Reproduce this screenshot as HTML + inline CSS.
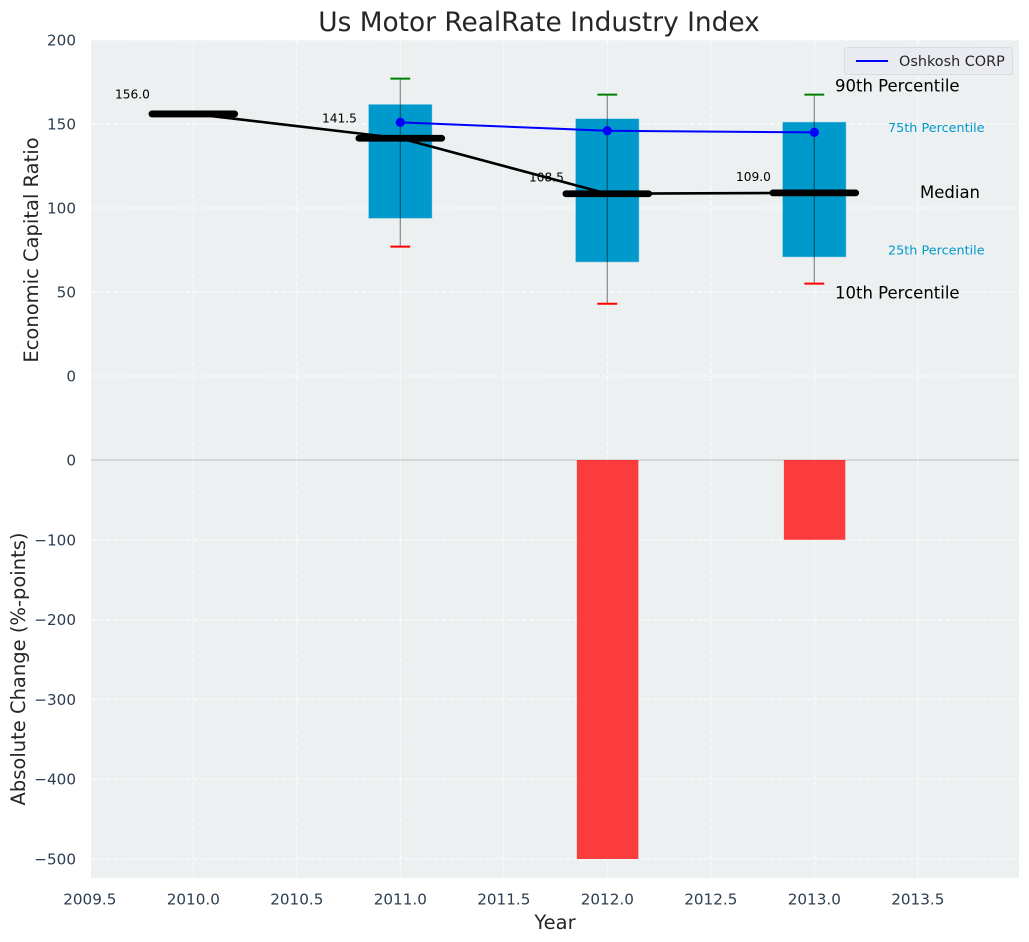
<!DOCTYPE html>
<html>
<head>
<meta charset="utf-8">
<title>Us Motor RealRate Industry Index</title>
<style>
html,body{margin:0;padding:0;background:#fff;width:1029px;height:942px;overflow:hidden}
svg{display:block;font-family:"DejaVu Sans","Liberation Sans",sans-serif}
</style>
</head>
<body>
<svg id="chart" xmlns="http://www.w3.org/2000/svg" width="1029" height="942" viewBox="0 0 1029 942"></svg>
<script>
const years = [2010, 2011, 2012, 2013];
const medians = [156.0, 141.5, 108.5, 109.0];
const medianLabels = ["156.0", "141.5", "108.5", "109.0"];
const boxYears = [2011, 2012, 2013];
const p90 = [177, 167.5, 167.5];
const p75 = [161.5, 153, 151];
const p25 = [94, 68, 71];
const p10 = [77, 43, 55];
const companyValues = [151, 146, 145];
const changeYears = [2012, 2013];
const changeValues = [-500, -100];
const xTicks = [2009.5, 2010, 2010.5, 2011, 2011.5, 2012, 2012.5, 2013, 2013.5];
const xTickLabels = ["2009.5", "2010.0", "2010.5", "2011.0", "2011.5", "2012.0", "2012.5", "2013.0", "2013.5"];
const topTicks = [200, 150, 100, 50, 0];
const bottomTicks = [0, -100, -200, -300, -400, -500];

const svg = document.getElementById('chart');
const NS = 'http://www.w3.org/2000/svg';
const left = 91, right = 1019, topA = 40, topB = 460, botB = 878;
function x(v) { return 193.3 + (v - 2010) * 207; }
function yTop(v) { return 376 - v * 1.68; }
function yBot(v) { return 460 + (0 - v) * 0.798; }
function el(tag, attrs, text) {
  const e = document.createElementNS(NS, tag);
  for (const k in attrs) e.setAttribute(k, attrs[k]);
  if (text !== undefined) e.textContent = text;
  svg.appendChild(e);
  return e;
}
function fmt(v) { return String(v).replace('-', '\u2212'); }
let n;

n = el('rect', {x: left, y: topA, width: right - left, height: topB - 1 - topA, fill: '#ecf0f1'});


n = el('rect', {x: left, y: topB, width: right - left, height: botB - topB, fill: '#ecf0f1'});



const gridStyle = {stroke: '#ffffff', 'stroke-width': 1, 'stroke-dasharray': '5.2 2.1', 'stroke-opacity': 0.85};
xTicks.forEach((t, i) => {
  n = el('line', Object.assign({x1: x(t), x2: x(t), y1: topA, y2: topB - 1}, gridStyle));
  
  
  n = el('line', Object.assign({x1: x(t), x2: x(t), y1: topB, y2: botB}, gridStyle));
  
  
  n = el('text', {x: x(t), y: 904.5, 'text-anchor': 'middle', 'font-size': 15.2, fill: '#2c3e50'}, xTickLabels[i]);
  
  
});
topTicks.forEach(t => {
  n = el('line', Object.assign({x1: left, x2: right, y1: yTop(t), y2: yTop(t)}, gridStyle));
  
  
  n = el('text', {x: 76, y: yTop(t) + 5.5, 'text-anchor': 'end', 'font-size': 15.2, fill: '#2c3e50'}, fmt(t));
  
  
});
bottomTicks.forEach(t => {
  n = el('line', Object.assign({x1: left, x2: right, y1: yBot(t), y2: yBot(t)}, gridStyle));
  
  
  n = el('text', {x: 76, y: yBot(t) + 5.5, 'text-anchor': 'end', 'font-size': 15.2, fill: '#2c3e50'}, fmt(t));
  
  
});

n = el('line', {x1: left, x2: right, y1: topB, y2: topB, stroke: '#b0b3b4', 'stroke-width': 1.1});



changeYears.forEach((yr, i) => {
  n = el('rect', {x: x(yr - 0.147), y: yBot(0), width: x(yr + 0.15) - x(yr - 0.147), height: yBot(changeValues[i]) - yBot(0), fill: '#ff0000', 'fill-opacity': 0.75});
  
  
});

boxYears.forEach((yr, i) => {
  n = el('rect', {x: x(yr - 0.152), y: yTop(p75[i]), width: x(yr + 0.152) - x(yr - 0.152), height: yTop(p25[i]) - yTop(p75[i]), fill: '#0099cc', stroke: '#0099cc', 'stroke-opacity': 0.4, 'stroke-width': 1});
  
  
  n = el('line', {x1: x(yr), x2: x(yr), y1: yTop(p90[i]), y2: yTop(p10[i]), stroke: '#000', 'stroke-opacity': 0.45, 'stroke-width': 1.2});
  
  
  n = el('line', {x1: x(yr - 0.048), x2: x(yr + 0.048), y1: yTop(p90[i]), y2: yTop(p90[i]), stroke: '#008000', 'stroke-width': 2});
  
  
  n = el('line', {x1: x(yr - 0.048), x2: x(yr + 0.048), y1: yTop(p10[i]), y2: yTop(p10[i]), stroke: '#ff0000', 'stroke-width': 2});
  
  
});

n = el('polyline', {points: years.map((yr, i) => x(yr) + ',' + yTop(medians[i])).join(' '), fill: 'none', stroke: '#000', 'stroke-width': 2.6});



years.forEach((yr, i) => {
  n = el('line', {x1: x(yr - 0.2), x2: x(yr + 0.2), y1: yTop(medians[i]), y2: yTop(medians[i]), stroke: '#000', 'stroke-width': 6.8, 'stroke-linecap': 'round'});
  
  
  n = el('text', {x: x(yr - 0.21), y: yTop(medians[i]) - (yr < 2012 ? 15.6 : 12), 'text-anchor': 'end', 'font-size': 12.2, fill: '#000'}, medianLabels[i]);
  
  
});

n = el('polyline', {points: boxYears.map((yr, i) => x(yr) + ',' + yTop(companyValues[i])).join(' '), fill: 'none', stroke: '#0000ff', 'stroke-width': 2});


boxYears.forEach((yr, i) => {
  n = el('circle', {cx: x(yr), cy: yTop(companyValues[i]), r: 4.6, fill: '#0000ff'});
  
  
});

const last = boxYears.length - 1;
n = el('text', {x: 835, y: yTop(p90[last]) - 3, 'font-size': 16.5, fill: '#000'}, '90th Percentile');


n = el('text', {x: 888, y: yTop(p75[last]) + 9.5, 'font-size': 12.8, fill: '#0099cc'}, '75th Percentile');


n = el('text', {x: 920, y: yTop(medians[3]) + 5, 'font-size': 16.5, fill: '#000'}, 'Median');


n = el('text', {x: 888, y: yTop(p25[last]) - 2, 'font-size': 12.8, fill: '#0099cc'}, '25th Percentile');


n = el('text', {x: 835, y: yTop(p10[last]) + 15, 'font-size': 16.5, fill: '#000'}, '10th Percentile');



n = el('rect', {x: 844.5, y: 47.5, width: 168, height: 27, rx: 3, fill: '#e9ebf0', stroke: '#d9dbdf', 'stroke-width': 1});


n = el('line', {x1: 856, x2: 888, y1: 61, y2: 61, stroke: '#0000ff', 'stroke-width': 2});


n = el('text', {x: 899, y: 66, 'font-size': 14.4, fill: '#262626'}, 'Oshkosh CORP');



n = el('text', {x: 539, y: 31, 'text-anchor': 'middle', 'font-size': 26.4, fill: '#262626'}, 'Us Motor RealRate Industry Index');


n = el('text', {x: 555, y: 929, 'text-anchor': 'middle', 'font-size': 19.5, fill: '#262626'}, 'Year');


n = el('text', {x: 0, y: 0, 'text-anchor': 'middle', 'font-size': 19.5, fill: '#262626', transform: 'translate(38 250) rotate(-90)'}, 'Economic Capital Ratio');


n = el('text', {x: 0, y: 0, 'text-anchor': 'middle', 'font-size': 19.5, fill: '#262626', transform: 'translate(25 669) rotate(-90)'}, 'Absolute Change (%-points)');


</script>
</body>
</html>
